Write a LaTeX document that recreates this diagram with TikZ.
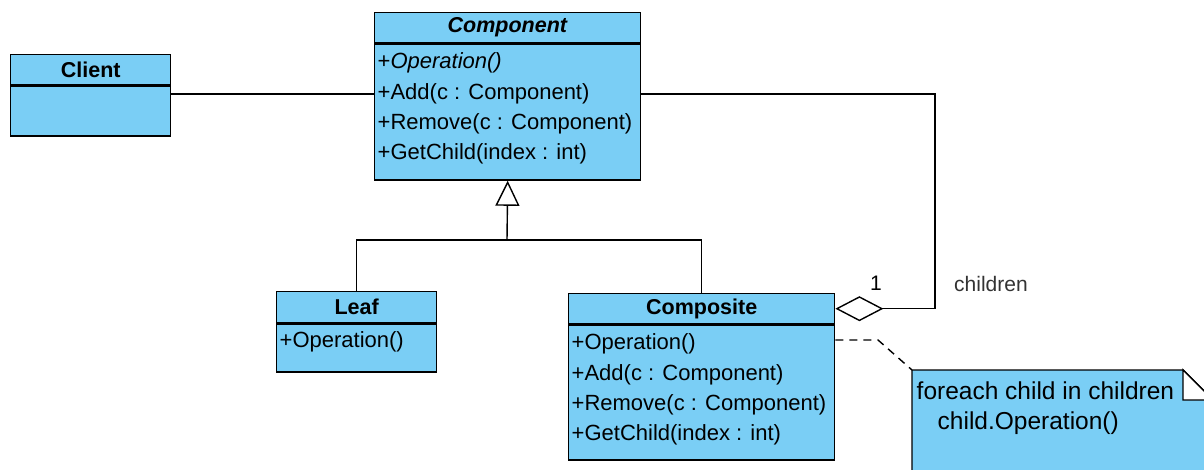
\documentclass[tikz,border=0pt]{standalone}
\usepackage{fontspec}
\setmainfont{Liberation Sans}
\usetikzlibrary{arrows.meta}
\definecolor{umlblue}{RGB}{122,206,245}

\begin{document}
\begin{tikzpicture}[x=1pt,y=-1pt,line width=1.4pt,
        classhead/.style={draw,fill=umlblue,inner sep=0pt,font=\fontsize{21.5}{26}\selectfont\bfseries},
        classbody/.style={draw,fill=umlblue,inner sep=0pt,anchor=north},
        member/.style={anchor=west,inner sep=0pt,font=\fontsize{22}{26}\selectfont},
        notetext/.style={anchor=west,inner sep=0pt,font=\fontsize{24.5}{30}\selectfont}]
        \useasboundingbox (0,0) rectangle (1204,470);
        \clip (0,0) rectangle (1204,470);

        \coordinate (link) at (0,94);
        \coordinate (agg) at (935,0);
        \coordinate (split) at (507,240);
        \coordinate (note) at (912,370);

        % classes
        \node[classhead,anchor=north west,minimum width=160pt,minimum height=30pt] (client) at (10,54) {Client};
        \node[classbody,minimum width=160pt,minimum height=50pt] (clientbody) at (client.south) {};

        \node[classhead,anchor=north west,minimum width=266pt,minimum height=30pt] (comphead) at (374,12) {\textit{Component}};
        \node[classbody,minimum width=266pt,minimum height=136pt] (compbody) at (comphead.south) {};
        \node[member] (compop)  at (377,63)  {+\textit{Operation()}};
        \node[member] (compadd) at (377,94)  {+Add(c : Component)};
        \node[member] (comprem) at (377,124) {+Remove(c : Component)};
        \node[member] (compget) at (377,154) {+GetChild(index : int)};

        \node[classhead,anchor=north west,minimum width=160pt,minimum height=31pt] (leafhead) at (276,291) {Leaf};
        \node[classbody,minimum width=160pt,minimum height=48pt] (leafbody) at (leafhead.south) {};
        \node[member] (leafop) at (279,342) {+Operation()};

        \node[classhead,anchor=north west,minimum width=266pt,minimum height=30pt] (cmphead) at (568,293) {Composite};
        \node[classbody,minimum width=266pt,minimum height=135pt] (cmpbody) at (cmphead.south) {};
        \node[member] (cmpop)  at (571,344) {+Operation()};
        \node[member] (cmpadd) at (571,375) {+Add(c : Component)};
        \node[member] (cmprem) at (571,405) {+Remove(c : Component)};
        \node[member] (cmpget) at (571,435) {+GetChild(index : int)};

        % note
        \draw[fill=umlblue] (912,480) -- (note) -- (1183,370) -- (1213,400) -- (1213,480);
        \draw[fill=white] (1183,370) -- (1183,400) -- (1213,400) -- cycle;
        \node[notetext] (notea) at (916,391) {foreach child in children};
        \node[notetext] (noteb) at (937,423) {child.Operation()};

        % relations
        \draw (clientbody.east |- link) -- (compbody.west |- link);
        \draw[-{Triangle[fill=white,length=25pt,width=24pt]}] (split) -- (compbody.south);
        \draw (leafhead.north) |- (split) -| (cmphead.north);
        \draw[-{Diamond[fill=white,length=48pt,width=25pt]}] (compbody.east |- link) -| (cmphead.east -| agg) -- (cmphead.east);
        \draw[dash pattern=on 8pt off 6pt] (cmpbody.east |- 0,340) -- (878,340) -- (note);

        \node[font=\fontsize{21}{26}\selectfont] (mult) at (876,283) {1};
        \node[font=\fontsize{21}{26}\selectfont,text=black!80] (role) at (991,284) {children};
\end{tikzpicture}
\end{document}
